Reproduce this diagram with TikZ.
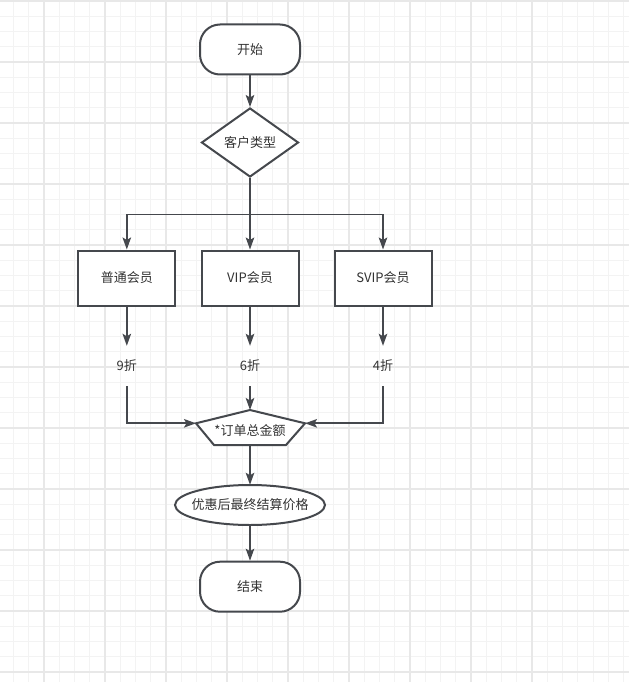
\documentclass[tikz,border=0pt]{standalone}
\usepackage{fontspec}
\setmainfont{Noto Sans CJK SC}
\usetikzlibrary{shapes.geometric,arrows.meta}
\definecolor{gridminor}{HTML}{F3F3F3}
\definecolor{gridmajor}{HTML}{E8E8E8}
\definecolor{ln}{HTML}{45484D}
\definecolor{tx}{HTML}{333333}
\begin{document}
\begin{tikzpicture}[x=1pt,y=-1pt,
  font=\fontsize{13}{15}\selectfont, text=tx,
  shp/.style={draw=ln, line width=2pt, fill=white},
  term/.style={shp, rounded corners=20pt, minimum width=100pt, minimum height=50pt, inner sep=0},
  box/.style={shp, minimum width=97pt, minimum height=55pt, inner sep=0},
  dec/.style={shp, diamond, minimum width=97pt, minimum height=69pt, inner sep=0},
  ovaltext/.style={minimum width=150pt, minimum height=40pt, inner sep=0},
  lbl/.style={minimum height=40pt, inner sep=0},
  conn/.style={draw=ln, line width=1.7pt, -{Stealth[length=12pt,width=8.5pt,inset=2.5pt]}},
  plainline/.style={draw=ln, line width=1.7pt},
  gmin/.style={draw=gridminor, line width=1pt},
  gmaj/.style={draw=gridmajor, line width=1.2pt}
]
\useasboundingbox (0,0) rectangle (629,682);
\fill[white] (0,0) rectangle (629,682);
% grid
\foreach \k in {-2,...,38}{
  \pgfmathsetmacro{\gx}{44+15.25*\k}
  \draw[gmin] (\gx,0) -- (\gx,682);
}
\foreach \k in {0,...,44}{
  \pgfmathsetmacro{\gy}{1+15.25*\k}
  \draw[gmin] (0,\gy) -- (629,\gy);
}
\foreach \k in {0,...,9}{
  \pgfmathsetmacro{\gx}{-17+61*\k}
  \draw[gmaj] (\gx,0) -- (\gx,682);
}
\foreach \k in {0,...,11}{
  \pgfmathsetmacro{\gy}{1+61*\k}
  \draw[gmaj] (0,\gy) -- (629,\gy);
}
% nodes
\node[term] (start) at (250,49.5) {开始};
\node[dec] (type) at (250,142.5) {客户类型};
\node[box] (b1) at (126.8,278) {普通会员};
\node[box] (b2) at (250,278) {VIP会员};
\node[box] (b3) at (383,278) {SVIP会员};
\node[lbl] (l1) at (126.8,366) {9折};
\node[lbl] (l2) at (250,366) {6折};
\node[lbl] (l3) at (383,366) {4折};
\coordinate (pt) at (250,410);
\coordinate (pr) at (305,423.3);
\coordinate (pbr) at (286,445);
\coordinate (pbl) at (214,445);
\coordinate (pl) at (196,423.3);
\coordinate (pb) at (250,445);
\path[shp] (pt) -- (pr) -- (pbr) -- (pbl) -- (pl) -- cycle;
\node (sum) at (250,431) {*订单总金额};
\path[shp] (250,505) ellipse [x radius=75, y radius=20];
\node[ovaltext] (final) at (250,505) {优惠后最终结算价格};
\node[term] (end) at (250,586.7) {结束};
\coordinate (split) at (250,214.5);
% connectors
\draw[conn] (start) -- (type);
\draw[plainline] (type) -- (split);
\draw[conn] (split) -| (b1);
\draw[conn] (split) -- (b2);
\draw[conn] (split) -| (b3);
\draw[conn] (b1) -- (l1);
\draw[conn] (b2) -- (l2);
\draw[conn] (b3) -- (l3);
\draw[conn] (l1) |- (pl);
\draw[conn] (l2) -- (pt);
\draw[conn] (l3) |- (pr);
\draw[conn] (pb) -- (final);
\draw[conn] (final) -- (end);
\end{tikzpicture}
\end{document}
